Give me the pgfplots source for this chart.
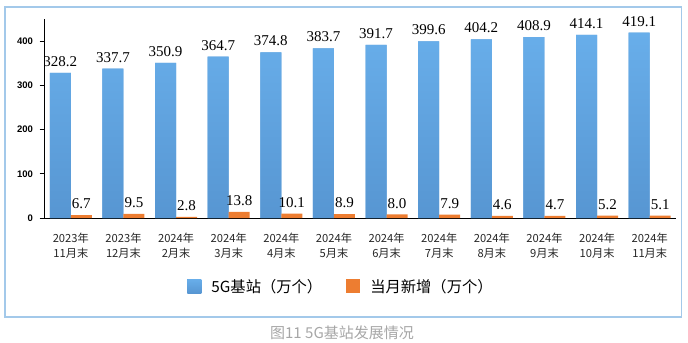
\documentclass[border=0pt]{standalone}
\usepackage{fontspec}
\usepackage{pgfplots}
\pgfplotsset{compat=1.18}
\setmainfont{Liberation Serif}
\setsansfont{Liberation Sans}
\newfontfamily\cjk{Noto Sans CJK SC}
\definecolor{barblue}{HTML}{5DA0DC}
\definecolor{barbluetop}{HTML}{68AEEA}
\definecolor{barbluebot}{HTML}{5796D2}
\definecolor{barorange}{HTML}{ED7D31}
\definecolor{frameblue}{HTML}{A3C9EA}
\definecolor{capgray}{HTML}{A6A6A6}
\begin{document}
\begin{tikzpicture}[x=1bp,y=1bp]
\useasboundingbox (0,0) rectangle (688,342);
\draw[frameblue, line width=1.6bp] (5,25) rectangle (681.5,335);
\begin{axis}[
  at={(44.5bp,124bp)}, anchor=south west,
  scale only axis, width=631.5bp, height=199bp,
  xmin=-0.5, xmax=11.5, ymin=0, ymax=450,
  axis x line*=bottom, axis y line*=left,
  axis line style={black, line width=0.9bp},
  ytick={0,100,200,300,400},
  yticklabel style={font=\sffamily\bfseries\fontsize{9.5bp}{11bp}\selectfont, xshift=-3bp},
  /pgf/number format/assume math mode=true,
  xtick={0,...,11},
  xticklabels={{2023年\\11月末},{2023年\\12月末},{2024年\\2月末},{2024年\\3月末},{2024年\\4月末},{2024年\\5月末},{2024年\\6月末},{2024年\\7月末},{2024年\\8月末},{2024年\\9月末},{2024年\\10月末},{2024年\\11月末}},
  xticklabel style={font=\cjk\fontsize{11.2bp}{15bp}\selectfont, align=center, yshift=-7bp, text=black!85},
  x tick style={draw=none},
  extra x ticks={-0.5,0.5,...,11.5},
  extra x tick labels={},
  extra x tick style={tick style={draw=black, line width=0.9bp}, major tick length=5bp, tick align=outside},
  y tick style={draw=black, line width=0.9bp},
  major tick length=5bp, tick align=outside,
  ybar, bar width=21bp,
  nodes near coords={\pgfmathprintnumber[fixed,fixed zerofill,precision=1]{\pgfplotspointmeta}},
  every node near coord/.append style={font=\fontsize{15bp}{17bp}\selectfont, inner sep=0pt, yshift=6bp, text=black},
  legend columns=2,
  legend style={at={(0.468,-0.342)}, anchor=center, draw=none, fill=none,
    font=\cjk\fontsize{15.3bp}{17bp}\selectfont,
    /tikz/every even column/.append style={column sep=24bp},
    nodes={inner sep=0pt, text depth=0pt}, inner sep=0pt},
  legend image code/.code={\fill[#1,draw=none] (0bp,-7bp) rectangle (14bp,7bp); \path (24bp,0);},
]
\addplot[fill=barblue, top color=barbluetop, bottom color=barbluebot, draw=none, bar shift=-10.5bp] coordinates {
(0,328.2) (1,337.7) (2,350.9) (3,364.7) (4,374.8) (5,383.7) (6,391.7) (7,399.6) (8,404.2) (9,408.9) (10,414.1) (11,419.1)};
\addlegendentry{5G基站（万个）}
\addplot[fill=barorange, draw=none, bar shift=10.5bp] coordinates {
(0,6.7) (1,9.5) (2,2.8) (3,13.8) (4,10.1) (5,8.9) (6,8.0) (7,7.9) (8,4.6) (9,4.7) (10,5.2) (11,5.1)};
\addlegendentry{当月新增（万个）}
\end{axis}
\node[text=capgray, font=\cjk\fontsize{15bp}{17bp}\selectfont] at (342,9) {图11 5G基站发展情况};
\end{tikzpicture}
\end{document}
